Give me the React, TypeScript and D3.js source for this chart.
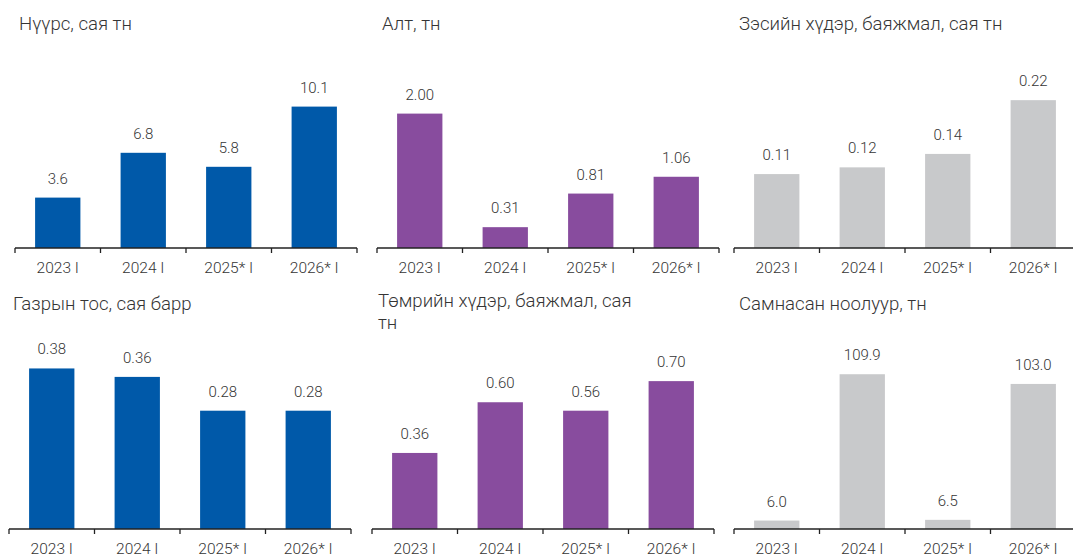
import React from "react";
import * as d3 from "d3";

const categories = ["2023 I", "2024 I", "2025* I", "2026* I"];

const titles = [
  ["Нүүрс, сая тн"],
  ["Алт, тн"],
  ["Зэсийн хүдэр, баяжмал, сая тн"],
  ["Газрын тос, сая барр"],
  ["Төмрийн хүдэр, баяжмал, сая", "тн"],
  ["Самнасан ноолуур, тн"],
];

const coal = [3.6, 6.8, 5.8, 10.1];
const gold = [2.0, 0.31, 0.81, 1.06];
const copper = [0.11, 0.12, 0.14, 0.22];
const oil = [0.38, 0.36, 0.28, 0.28];
const iron = [0.36, 0.6, 0.56, 0.7];
const cashmere = [6.0, 109.9, 6.5, 103.0];

const seriesValues = [coal, gold, copper, oil, iron, cashmere];
const decimals = [1, 2, 2, 2, 2, 1];
const axisMax = [12, 2.5, 0.25, 0.4, 0.8, 120];

const colors = ["#0059A9", "#884C9E", "#C8C9CB", "#0059A9", "#884C9E", "#C8C9CB"];

// layout
const layout = [
  { x0: 15, base: 248, top: 80, tx: 19, ty: 30 },
  { x0: 377, base: 248, top: 80, tx: 382, ty: 30 },
  { x0: 734, base: 248, top: 80, tx: 739, ty: 30 },
  { x0: 9, base: 529, top: 360, tx: 13, ty: 310 },
  { x0: 372, base: 529, top: 360, tx: 378, ty: 307 },
  { x0: 734, base: 529, top: 360, tx: 739, ty: 310 },
];
const W = 342;
const textColor = "#353535";
const font = "Roboto, 'Liberation Sans', sans-serif";

function Panel({ i }: { i: number }) {
  const L = layout[i];
  const vals = seriesValues[i];
  const x = d3
    .scaleBand<string>()
    .domain(categories)
    .range([L.x0, L.x0 + W])
    .paddingInner(0.47)
    .paddingOuter(0.235);
  const y = d3.scaleLinear().domain([0, axisMax[i]]).range([L.base, L.top]);
  const step = x.step();
  const bounds = d3.range(categories.length + 1).map((k) => L.x0 + k * step);
  return (
    <g>
      <text
        x={L.tx}
        y={L.ty}
        fontSize={18.6}
        fontWeight={300}
        fill={textColor}
        fontFamily={font}
      >
        {titles[i].map((t, k) => (
          <tspan key={k} x={L.tx} dy={k === 0 ? 0 : 22}>
            {t}
          </tspan>
        ))}
      </text>
      {vals.map((v, k) => (
        <g key={k}>
          <rect
            x={x(categories[k])}
            y={y(v)}
            width={x.bandwidth()}
            height={L.base - y(v)}
            fill={colors[i]}
          />
          <text
            x={(x(categories[k]) as number) + x.bandwidth() / 2}
            y={y(v) - 14}
            textAnchor="middle"
            fontSize={15}
            fontWeight={300}
            fill={textColor}
            fontFamily={font}
          >
            {v.toFixed(decimals[i])}
          </text>
          <text
            x={(x(categories[k]) as number) + x.bandwidth() / 2}
            y={L.base + 25}
            textAnchor="middle"
            fontSize={15.5}
            fontWeight={300}
            fill={textColor}
            fontFamily={font}
          >
            {categories[k]}
          </text>
        </g>
      ))}
      <line
        x1={L.x0}
        x2={L.x0 + W}
        y1={L.base}
        y2={L.base}
        stroke="#222"
        strokeWidth={1.3}
      />
      {bounds.map((bx, k) => (
        <line
          key={k}
          x1={bx}
          x2={bx}
          y1={L.base}
          y2={L.base + 5}
          stroke="#222"
          strokeWidth={1.3}
        />
      ))}
    </g>
  );
}

export default function App() {
  return (
    <svg
      width={1073}
      height={555}
      style={{ position: "absolute", left: 0, top: 0, background: "#fff" }}
    >
      {d3.range(6).map((i) => (
        <Panel key={i} i={i} />
      ))}
    </svg>
  );
}
